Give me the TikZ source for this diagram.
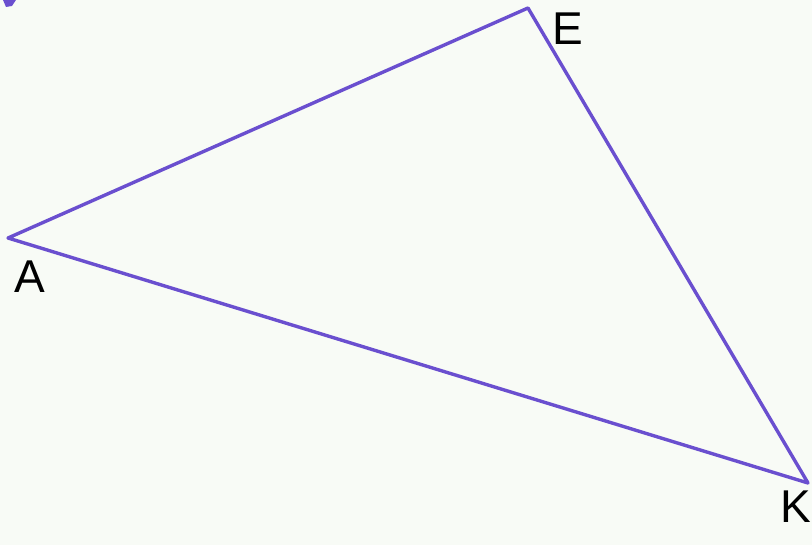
\documentclass[tikz,border=0pt]{standalone}
\usepackage{fontspec}
\setmainfont{Liberation Sans}
\definecolor{bg}{HTML}{F8FBF6}
\definecolor{pen}{HTML}{6A4FCF}
\begin{document}
\begin{tikzpicture}[x=1pt,y=-1pt,
  edge/.style={draw=pen,line width=3.4pt,line join=round,line cap=round},
  lab/.style={font=\fontsize{46}{46}\selectfont,text=black,inner sep=0pt,anchor=base}]
\useasboundingbox (0,0) rectangle (812,545);
\clip (0,0) rectangle (812,545);
\fill[bg] (0,0) rectangle (812,545);
\fill[pen] (3,0) -- (16,0) -- (12,6) -- (6,7) -- cycle;
\coordinate (A) at (8,238);
\coordinate (E) at (528,8);
\coordinate (K) at (808,483);
\draw[edge] (A) -- (E) -- (K) -- cycle;
\node[lab] (la) at (30,293) {A};
\node[lab] (le) at (568,45) {E};
\node[lab,anchor=base east] (lk) at (811,522) {K};
\end{tikzpicture}
\end{document}
